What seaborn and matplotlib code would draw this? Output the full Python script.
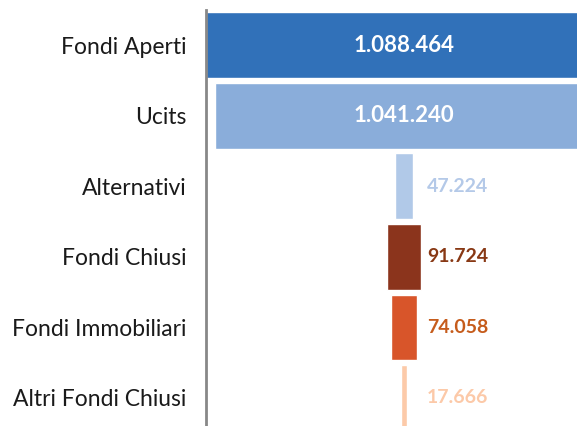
import pandas as pd
import seaborn as sns
import matplotlib.pyplot as plt

categories = ["Fondi Aperti", "Ucits", "Alternativi", "Fondi Chiusi",
              "Fondi Immobiliari", "Altri Fondi Chiusi"]
values = [1088464, 1041240, 47224, 91724, 74058, 17666]
value_labels = ["1.088.464", "1.041.240", "47.224", "91.724", "74.058", "17.666"]
bar_colors = ["#3171B9", "#8AADDA", "#B1C9E8", "#8B341C", "#D8552A", "#FCCAA9"]
text_colors = ["white", "white", "#B4C9E8", "#883814", "#C65C1C", "#FCC9A8"]

df = pd.DataFrame({"categoria": categories, "valore": values})

sns.set_theme(style="white")
plt.rcParams["font.family"] = ["Lato", "DejaVu Sans"]

fig = plt.figure(figsize=(5.77, 4.26), dpi=100)
ax = fig.add_axes([206 / 577, 0, 1 - 206 / 577, 416 / 426])

sns.barplot(data=df, x="valore", y="categoria", hue="categoria",
            palette=bar_colors, saturation=1, orient="h", width=0.93,
            legend=False, edgecolor="white", linewidth=1, ax=ax)

# funnel: center every bar on zero
for p in ax.patches:
    p.set_x(-p.get_width() / 2)

half = values[0] / 2
ax.set_xlim(-half, 475600)
ax.set_ylim(5.4, -0.5)

for i, (v, lab, c) in enumerate(zip(values, value_labels, text_colors)):
    if v > 500000:
        ax.text(0, i, lab, ha="center", va="center", color=c,
                fontsize=16, fontweight="bold")
    else:
        ax.text(63000, i, lab, ha="left", va="center", color=c,
                fontsize=14, fontweight="bold")

ax.set_xlabel("")
ax.set_ylabel("")
ax.set_xticks([])
ax.tick_params(axis="y", length=0, pad=14, labelsize=16.5, labelcolor="#1a1a1a")
for s in ["top", "right", "bottom"]:
    ax.spines[s].set_visible(False)
ax.spines["left"].set_color("#888888")
ax.spines["left"].set_linewidth(2)
ax.spines["left"].set_zorder(5)

fig.savefig("out.png", dpi=100)
